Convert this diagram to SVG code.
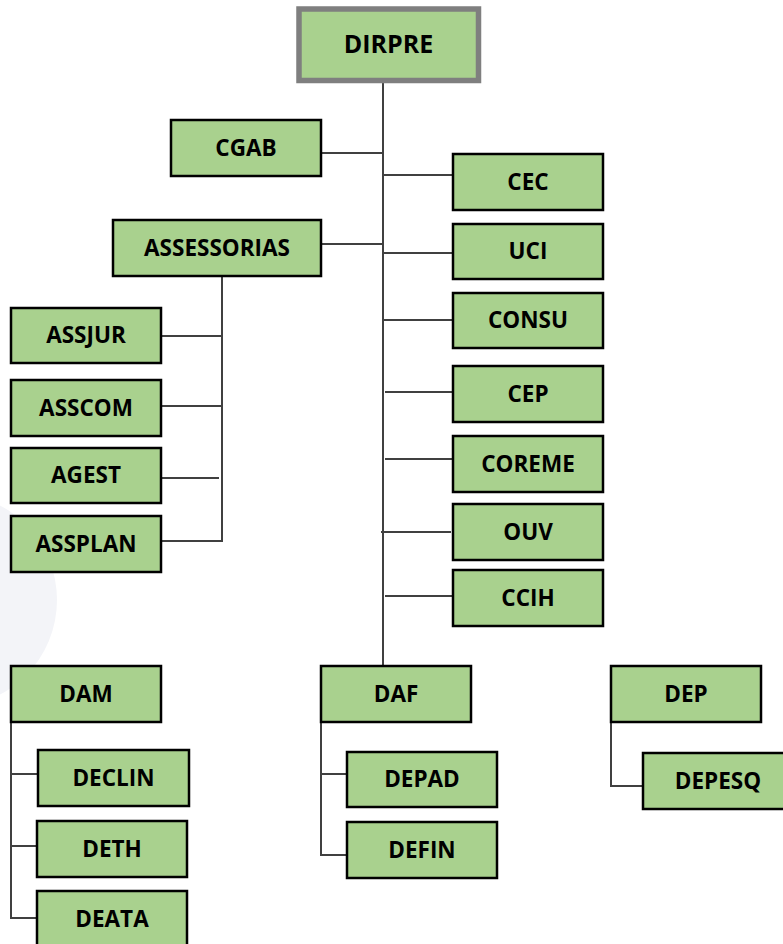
<svg xmlns="http://www.w3.org/2000/svg" width="783" height="944" viewBox="0 0 783 944">
<style>
.box{fill:#A9D18E;stroke:#000;stroke-width:2.5}
.top{fill:#A9D18E;stroke:#7F7F7F;stroke-width:5.5}
.lbl{font-family:"Open Sans","Liberation Sans",sans-serif;font-weight:700;font-size:22.5px;fill:#000;text-anchor:middle;dominant-baseline:central}
.big{font-size:25px}
.ln{stroke:#404040;stroke-width:2;fill:none}
</style>
<rect width="783" height="944" fill="#fff"/>
<circle cx="-50" cy="600" r="107" fill="#F3F4F8"/>
<g id="connectors">
<path class="ln" d="M383 83V667"/>
<path class="ln" d="M321 153H383"/>
<path class="ln" d="M383 175H453"/>
<path class="ln" d="M321 244H383"/>
<path class="ln" d="M383 253H453"/>
<path class="ln" d="M383 320H453"/>
<path class="ln" d="M385 392H453"/>
<path class="ln" d="M385 459H453"/>
<path class="ln" d="M381 532H451"/>
<path class="ln" d="M385 596H453"/>
<path class="ln" d="M222 276V541H161"/>
<path class="ln" d="M161 336H222"/>
<path class="ln" d="M161 406H222"/>
<path class="ln" d="M157 478H219"/>
<path class="ln" d="M11 722V918H37"/>
<path class="ln" d="M11 774H38"/>
<path class="ln" d="M11 846H37"/>
<path class="ln" d="M321 722V855H347"/>
<path class="ln" d="M321 774H347"/>
<path class="ln" d="M611 722V786H643"/>
</g>
<g id="DIRPRE"><rect class="top" x="299" y="9" width="179.5" height="71.5"/><text class="lbl big" x="388.5" y="43">DIRPRE</text></g>
<g id="CGAB"><rect class="box" x="171" y="120" width="150" height="56"/><text class="lbl" x="246" y="147">CGAB</text></g>
<g id="ASSESSORIAS"><rect class="box" x="113" y="220" width="208" height="56"/><text class="lbl" x="217" y="247">ASSESSORIAS</text></g>
<g id="CEC"><rect class="box" x="453" y="154" width="150" height="56"/><text class="lbl" x="528" y="181">CEC</text></g>
<g id="UCI"><rect class="box" x="453" y="224" width="150" height="55"/><text class="lbl" x="528" y="250.5">UCI</text></g>
<g id="CONSU"><rect class="box" x="453" y="293" width="150" height="55"/><text class="lbl" x="528" y="319.5">CONSU</text></g>
<g id="CEP"><rect class="box" x="453" y="366" width="150" height="56"/><text class="lbl" x="528" y="393">CEP</text></g>
<g id="COREME"><rect class="box" x="453" y="436" width="150" height="56"/><text class="lbl" x="528" y="463">COREME</text></g>
<g id="OUV"><rect class="box" x="453" y="504" width="150" height="56"/><text class="lbl" x="528" y="531">OUV</text></g>
<g id="CCIH"><rect class="box" x="453" y="570" width="150" height="56"/><text class="lbl" x="528" y="597">CCIH</text></g>
<g id="ASSJUR"><rect class="box" x="11" y="308" width="150" height="55"/><text class="lbl" x="86" y="334.5">ASSJUR</text></g>
<g id="ASSCOM"><rect class="box" x="11" y="380" width="150" height="56"/><text class="lbl" x="86" y="407">ASSCOM</text></g>
<g id="AGEST"><rect class="box" x="11" y="448" width="150" height="55"/><text class="lbl" x="86" y="474.5">AGEST</text></g>
<g id="ASSPLAN"><rect class="box" x="11" y="516" width="150" height="56"/><text class="lbl" x="86" y="543">ASSPLAN</text></g>
<g id="DAM"><rect class="box" x="11" y="666" width="150" height="56"/><text class="lbl" x="86" y="693">DAM</text></g>
<g id="DECLIN"><rect class="box" x="38" y="750" width="151" height="56"/><text class="lbl" x="113.5" y="777">DECLIN</text></g>
<g id="DETH"><rect class="box" x="37" y="821" width="150" height="56"/><text class="lbl" x="112" y="848">DETH</text></g>
<g id="DEATA"><rect class="box" x="37" y="891" width="150" height="56"/><text class="lbl" x="112" y="918">DEATA</text></g>
<g id="DAF"><rect class="box" x="321" y="666" width="150" height="56"/><text class="lbl" x="396" y="693">DAF</text></g>
<g id="DEPAD"><rect class="box" x="347" y="752" width="150" height="55"/><text class="lbl" x="422" y="778.5">DEPAD</text></g>
<g id="DEFIN"><rect class="box" x="347" y="822" width="150" height="56"/><text class="lbl" x="422" y="849">DEFIN</text></g>
<g id="DEP"><rect class="box" x="611" y="666" width="150" height="56"/><text class="lbl" x="686" y="693">DEP</text></g>
<g id="DEPESQ"><rect class="box" x="643" y="753" width="150" height="56"/><text class="lbl" x="718" y="780">DEPESQ</text></g>
</svg>
